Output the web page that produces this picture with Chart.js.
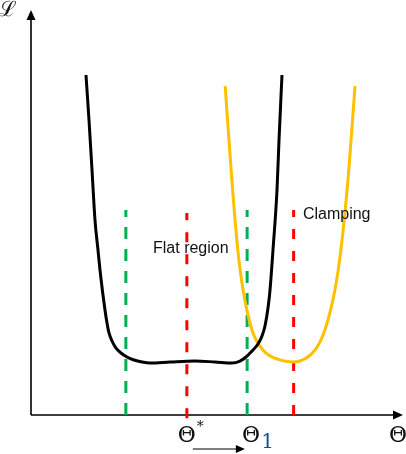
<!DOCTYPE html>
<html>
<head>
<meta charset="utf-8">
<script src="https://cdn.jsdelivr.net/npm/chart.js@4"></script>
<style>
  html, body { margin: 0; padding: 0; background: #fff; }
  canvas { display: block; }
</style>
</head>
<body>
<canvas id="chart" width="406" height="454"></canvas>
<script>
// loss with a flat bottom (black)
const lossX = [1.478, 1.559, 1.640, 1.720, 1.801, 1.855, 1.935, 1.989, 2.043, 2.097, 2.177, 2.285, 2.419, 2.581, 2.769, 2.984,
  3.199, 3.737, 4.409, 4.946, 5.403, 5.618, 5.780, 5.941, 6.102, 6.210, 6.290, 6.371, 6.425, 6.505, 6.613, 6.667, 6.747];
const lossY = [8.395, 7.284, 6.049, 4.815, 4.074, 3.580, 2.963, 2.593, 2.272, 2.025, 1.827, 1.654, 1.531, 1.432, 1.358, 1.309,
  1.284, 1.309, 1.333, 1.309, 1.284, 1.333, 1.432, 1.580, 1.753, 1.951, 2.198, 2.642, 3.086, 4.074, 5.556, 6.790, 8.395];

// loss after clamping (gold)
const clampX = [5.22, 5.40, 5.56, 5.70, 5.94, 6.24, 6.69, 7.04, 7.63, 7.90, 8.17, 8.33, 8.52, 8.71];
const clampY = [8.12, 5.80, 4.07, 3.09, 2.10, 1.60, 1.36, 1.31, 1.60, 2.10, 3.09, 4.07, 5.80, 8.12];

// edges of the flat region (green) and the minima (red)
const edgeX = [2.55, 5.81];
const edgeTop = [5.06, 5.06];
const minX = [4.19, 7.06];
const minTop = [4.99, 5.06];
const minBottom = [-0.08, 0];

// labels under the axis
const thetaTicks = [4.19, 5.81];
const thetaMarks = ['*', '1'];

const notes = [
  { text: 'Flat region', x: 3.28, y: 4.0 },
  { text: 'Clamping', x: 7.31, y: 4.84 }
];

const pts = (xs, ys) => xs.map((v, i) => ({ x: v, y: ys[i] }));

const datasets = [
  {
    data: pts(lossX, lossY),
    borderColor: '#000000',
    borderWidth: 3,
    cubicInterpolationMode: 'monotone',
    pointRadius: 0
  },
  {
    data: pts(clampX, clampY),
    borderColor: '#FFC000',
    borderWidth: 3,
    cubicInterpolationMode: 'monotone',
    pointRadius: 0
  }
];

edgeX.forEach((v, i) => {
  datasets.push({
    data: [{ x: v, y: 0 }, { x: v, y: edgeTop[i] }],
    borderColor: '#00B050',
    borderWidth: 3,
    borderDash: [12, 10],
    pointRadius: 0
  });
});
minX.forEach((v, i) => {
  datasets.push({
    data: [{ x: v, y: minBottom[i] }, { x: v, y: minTop[i] }],
    borderColor: '#FF0000',
    borderWidth: 3,
    borderDash: [10, 12],
    pointRadius: 0,
    clip: false
  });
});

const overlay = {
  id: 'overlay',
  beforeDatasetsDraw(chart) {
    const { ctx, scales: { x, y } } = chart;
    const x0 = x.getPixelForValue(0), y0 = y.getPixelForValue(0);
    const xEnd = x.getPixelForValue(x.max), yEnd = y.getPixelForValue(y.max);
    ctx.save();
    ctx.strokeStyle = '#000';
    ctx.fillStyle = '#000';
    ctx.lineWidth = 1.6;
    ctx.beginPath();
    ctx.moveTo(x0, y0); ctx.lineTo(xEnd - 6, y0);
    ctx.moveTo(x0, y0); ctx.lineTo(x0, yEnd + 6);
    ctx.stroke();
    ctx.beginPath();
    ctx.moveTo(xEnd, y0); ctx.lineTo(xEnd - 10, y0 - 4.5); ctx.lineTo(xEnd - 10, y0 + 4.5);
    ctx.fill();
    ctx.beginPath();
    ctx.moveTo(x0, yEnd); ctx.lineTo(x0 - 4.5, yEnd + 10); ctx.lineTo(x0 + 4.5, yEnd + 10);
    ctx.fill();
    ctx.restore();
  },
  afterDraw(chart) {
    const { ctx, scales: { x, y } } = chart;
    const x0 = x.getPixelForValue(0), y0 = y.getPixelForValue(0);
    const xEnd = x.getPixelForValue(x.max), yEnd = y.getPixelForValue(y.max);
    ctx.save();
    ctx.fillStyle = '#111';
    ctx.textBaseline = 'middle';

    // axis names
    ctx.textAlign = 'center';
    ctx.font = '21px "DejaVu Serif"';
    ctx.fillText('ℒ', x0 - 23, yEnd + 1);
    ctx.font = '22px "DejaVu Serif"';
    ctx.fillText('Θ', xEnd - 5, y0 + 21);

    // theta* and theta_1
    thetaTicks.forEach((v, i) => {
      const px = x.getPixelForValue(v);
      ctx.font = '22px "DejaVu Serif"';
      ctx.fillStyle = '#111';
      ctx.textAlign = 'center';
      if (thetaMarks[i] === '*') {
        ctx.fillText('Θ', px, y0 + 21);
        ctx.textAlign = 'left';
        ctx.font = '14px "DejaVu Serif"';
        ctx.fillText('*', px + 10, y0 + 12);
      } else {
        ctx.fillText('Θ', px + 4, y0 + 21);
        ctx.textAlign = 'left';
        ctx.font = '20px "DejaVu Serif"';
        ctx.fillStyle = '#1f4f8f';
        ctx.fillText(thetaMarks[i], px + 14, y0 + 28);
      }
    });

    // shift arrow from theta* towards theta_1
    const ax1 = x.getPixelForValue(4.35), ax2 = x.getPixelForValue(5.75), ay = y0 + 34;
    ctx.strokeStyle = '#000';
    ctx.fillStyle = '#000';
    ctx.lineWidth = 1;
    ctx.beginPath();
    ctx.moveTo(ax1, ay); ctx.lineTo(ax2 - 6, ay);
    ctx.stroke();
    ctx.beginPath();
    ctx.moveTo(ax2, ay); ctx.lineTo(ax2 - 9, ay - 4); ctx.lineTo(ax2 - 9, ay + 4);
    ctx.fill();

    // region notes
    ctx.fillStyle = '#111';
    ctx.textAlign = 'left';
    ctx.textBaseline = 'alphabetic';
    ctx.font = '16px "Liberation Sans"';
    notes.forEach(n => {
      ctx.fillText(n.text, x.getPixelForValue(n.x), y.getPixelForValue(n.y));
    });
    ctx.restore();
  }
};

new Chart(document.getElementById('chart'), {
  type: 'line',
  data: { datasets },
  options: {
    responsive: false,
    devicePixelRatio: 1,
    animation: false,
    layout: { padding: { left: 31, right: 3, top: 10, bottom: 39 } },
    plugins: { legend: { display: false }, tooltip: { enabled: false } },
    scales: {
      x: { type: 'linear', min: 0, max: 10, display: false },
      y: { type: 'linear', min: 0, max: 10, display: false }
    }
  },
  plugins: [overlay]
});
</script>
</body>
</html>
